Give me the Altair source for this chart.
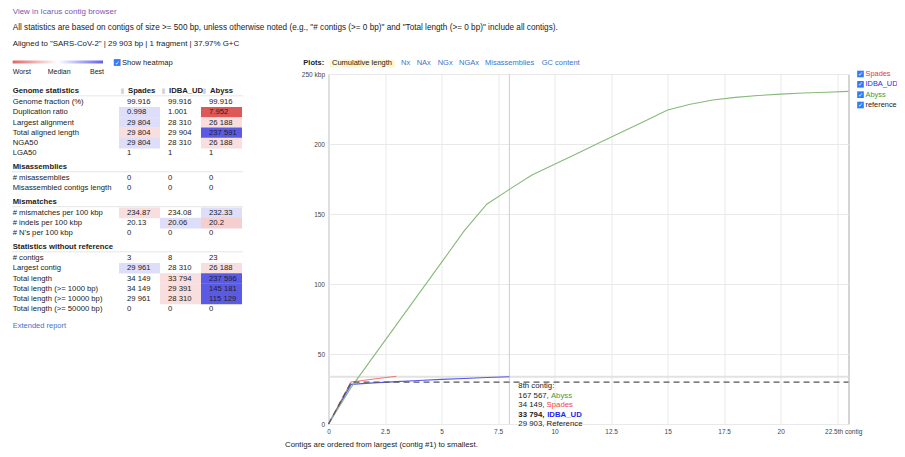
import altair as alt
import pandas as pd

# ---------------- data ----------------
assemblies = ["Spades", "IDBA_UD", "Abyss"]

cum_spades = [0, 29.961, 32.1, 34.149]
cum_idba = [0, 28.310, 29.391, 30.291, 31.091, 31.851, 32.551, 33.201, 33.794]
cum_abyss = [0, 26.188, 48.5, 70.8, 93.1, 115.4, 137.9, 157.0, 167.567, 177.8,
             185.5, 193.3, 201.0, 208.8, 216.5, 224.3, 228.4, 231.4, 233.3,
             234.6, 235.6, 236.4, 237.0, 237.596]
ref_contig = [0, 1, 23]
ref_kbp = [0, 29.903, 29.903]

x_ticks = [0, 2.5, 5, 7.5, 10, 12.5, 15, 17.5, 20, 22.5]
y_ticks = [0, 50, 100, 150, 200, 250]

hover_contig = 8
hover_level = 33.794
hover_title = "8th contig:"
hover_names = ["Abyss", "Spades", "IDBA_UD", "Reference"]
hover_values = ["167 567", "34 149", "33 794", "29 903"]

legend_names = ["Spades", "IDBA_UD", "Abyss", "reference"]
plot_tabs = ["Cumulative length", "Nx", "NAx", "NGx", "NGAx", "Misassemblies", "GC content"]

section_titles = ["Genome statistics", "Misassemblies", "Mismatches", "Statistics without reference"]
row_labels = ["Genome fraction (%)", "Duplication ratio", "Largest alignment",
              "Total aligned length", "NGA50", "LGA50",
              "# misassemblies", "Misassembled contigs length",
              "# mismatches per 100 kbp", "# indels per 100 kbp", "# N's per 100 kbp",
              "# contigs", "Largest contig", "Total length", "Total length (>= 1000 bp)",
              "Total length (>= 10000 bp)", "Total length (>= 50000 bp)"]
row_section = [0, 0, 0, 0, 0, 0, 1, 1, 2, 2, 2, 3, 3, 3, 3, 3, 3]
spades_vals = ["99.916", "0.998", "29 804", "29 804", "29 804", "1", "0", "0", "234.87", "20.13", "0",
               "3", "29 961", "34 149", "34 149", "29 961", "0"]
idba_vals = ["99.916", "1.001", "28 310", "29 904", "28 310", "1", "0", "0", "234.08", "20.06", "0",
             "8", "28 310", "33 794", "29 391", "28 310", "0"]
abyss_vals = ["99.916", "7.952", "26 188", "237 591", "26 188", "1", "0", "0", "232.33", "20.2", "0",
              "23", "26 188", "237 596", "145 181", "115 129", "0"]
spades_heat = [0, 0.17, 0.17, -0.17, 0.17, 0, 0, 0, -0.17, 0, 0, 0, 0.17, 0, 0, 0, 0]
idba_heat = [0, 0, 0, 0, 0, 0, 0, 0, 0, 0.17, 0, 0, 0, -0.17, -0.17, -0.17, 0]
abyss_heat = [0, -0.85, -0.17, 0.85, -0.17, 0, 0, 0, 0.17, -0.25, 0, 0, -0.17, 0.85, 0.85, 0.85, 0]

# ---------------- style / layout ----------------
FONT = "Liberation Sans"
TXT = "#222222"
LINK = "#3f74c6"
line_colors = ["#f07777", "#5656f2", "#86ba7a"]
legend_text_colors = ["#ec3434", "#2a2aec", "#3f9a35", "#222222"]
hover_name_colors = {"Abyss": "#4a9a3c", "Spades": "#f04848", "IDBA_UD": "#1f1ff0", "Reference": "#222222"}
heat_range = ["#d83a3a", "#ffffff", "#3d3de0"]
CHECK_BLUE = "#2f7cf6"
TABLE_FS = 7.7

PW, PH = 520, 350          # plot area
OX, OY = 328.5, 74         # page position of plot origin
SVG_W, SVG_H = 889, 441


def rx(px):
    return px - OX


def ry(py):
    return py - OY


one = pd.DataFrame({"k": [0]})


def txt(text, x, y, size=7.5, color=TXT, weight="normal", align="left", font=FONT, dx=0):
    return alt.Chart(one).mark_text(
        text=text, align=align, baseline="middle", fontSize=size, color=color,
        fontWeight=weight, font=font, dx=dx
    ).encode(x=alt.value(x), y=alt.value(y))


def text_width(s, size):
    w = 0
    for ch in s:
        if ch.isdigit():
            w += 0.556
        else:
            w += 0.278
    return w * size


# ---------------- cumulative-length plot ----------------
rows = []
for name, vals in zip(assemblies, [cum_spades, cum_idba, cum_abyss]):
    for i, v in enumerate(vals):
        rows.append({"contig": i, "kbp": v, "assembly": name})
df_lines = pd.DataFrame(rows)
df_ref = pd.DataFrame({"contig": ref_contig, "kbp": ref_kbp})

xscale = alt.Scale(domain=[0, 23], nice=False, zero=False)
yscale = alt.Scale(domain=[0, 250], nice=False)

xaxis = alt.Axis(values=x_ticks, title=None, grid=True, gridColor="#e9e9e9", domain=False,
                 ticks=False, labelPadding=4, labelFontSize=6.5, labelColor="#444",
                 labelFlush=False, labelOverlap=False,
                 labelExpr="datum.value == 22.5 ? '22.5th contig' : '' + datum.value",
                 labelOffset={"condition": {"test": "datum.value == 22.5", "value": 6}, "value": 0})
yaxis = alt.Axis(values=y_ticks, title=None, grid=True, gridColor="#e9e9e9", domain=False,
                 ticks=False, labelPadding=4, labelFontSize=6.5, labelColor="#444",
                 labelOverlap=False,
                 labelExpr="datum.value == 250 ? '250 kbp' : '' + datum.value")

hover_h = alt.Chart(one).mark_rule(color="#e2e2e2", strokeWidth=2).encode(
    y=alt.datum(hover_level, scale=yscale))
hover_v = alt.Chart(one).mark_rule(color="#cdcdcd", strokeWidth=1).encode(
    x=alt.datum(hover_contig, scale=xscale))

lines = alt.Chart(df_lines).mark_line(strokeWidth=1.1).encode(
    x=alt.X("contig:Q", scale=xscale, axis=xaxis),
    y=alt.Y("kbp:Q", scale=yscale, axis=yaxis),
    color=alt.Color("assembly:N", scale=alt.Scale(domain=assemblies, range=line_colors), legend=None),
)
ref_line = alt.Chart(df_ref).mark_line(strokeWidth=1.2, color="#555555", strokeDash=[6, 4]).encode(
    x="contig:Q", y="kbp:Q")

tip_layers = []
tip_y0 = ry(386)
tip_step = 9.6
tip_layers.append(
    alt.Chart(one).mark_text(text=hover_title, align="left", baseline="middle", fontSize=7.8,
                             color=TXT, dx=9).encode(x=alt.datum(hover_contig), y=alt.value(tip_y0)))
for i, (nm, val) in enumerate(zip(hover_names, hover_values)):
    bold = "bold" if nm == "IDBA_UD" else "normal"
    yv = tip_y0 + tip_step * (i + 1)
    prefix = val + ", "
    tip_layers.append(
        alt.Chart(one).mark_text(text=prefix, align="left", baseline="middle", fontSize=7.8,
                                 color=TXT, fontWeight=bold, dx=9).encode(
            x=alt.datum(hover_contig), y=alt.value(yv)))
    tip_layers.append(
        alt.Chart(one).mark_text(text=nm, align="left", baseline="middle", fontSize=7.8,
                                 color=hover_name_colors[nm], fontWeight=bold,
                                 dx=9 + text_width(prefix, 7.8) + (0.6 if bold == "bold" else 0)).encode(
            x=alt.datum(hover_contig), y=alt.value(yv)))

plot = alt.layer(hover_h, hover_v, lines, ref_line, *tip_layers)

# ---------------- statistics table ----------------
positions = []
header_pos = []
cur = 0.0
for si in range(len(section_titles)):
    if si > 0:
        cur += 1.3
    header_pos.append(cur)
    cur += 1.1
    first = True
    for r, s in enumerate(row_section):
        if s != si:
            continue
        if not first:
            cur += 1.0
        first = False
        positions.append(cur)
total_units = cur

cells = []
for r, lab in enumerate(row_labels):
    for a, vals, heats in zip(assemblies, [spades_vals, idba_vals, abyss_vals],
                              [spades_heat, idba_heat, abyss_heat]):
        cells.append({"label": lab, "assembly": a, "value": vals[r], "heat": heats[r],
                      "yc": positions[r], "y0": positions[r] - 0.52, "y1": positions[r] + 0.52})
df_cells = pd.DataFrame(cells)
df_heat = df_cells[df_cells["heat"] != 0]
df_rowlab = pd.DataFrame({"label": row_labels, "yc": positions})
df_sec = pd.DataFrame({"label": section_titles, "yc": header_pos,
                       "line": [h + 0.5 for h in header_pos]})
df_colhead = pd.DataFrame({"assembly": assemblies, "yc": [header_pos[0]] * 3})

ty = alt.Scale(domain=[0, total_units], range=[ry(90.7), ry(309.3)], nice=False, zero=False)
tx = alt.Scale(type="band", domain=assemblies, range=[rx(119), rx(242)], paddingInner=0, paddingOuter=0)

cell_rect = alt.Chart(df_heat).mark_rect().encode(
    x=alt.X("assembly:N", scale=tx, axis=None),
    y=alt.Y("y0:Q", scale=ty, axis=None), y2="y1:Q",
    color=alt.Color("heat:Q", scale=alt.Scale(type="linear", domain=[-1, 0, 1], range=heat_range,
                                               interpolate="rgb"), legend=None),
)
cell_txt = alt.Chart(df_cells).mark_text(align="left", baseline="middle", fontSize=TABLE_FS, color=TXT,
                                         dx=-12.5).encode(
    x=alt.X("assembly:N", scale=tx, axis=None), y=alt.Y("yc:Q", scale=ty, axis=None), text="value:N")
row_txt = alt.Chart(df_rowlab).mark_text(align="left", baseline="middle", fontSize=TABLE_FS, color=TXT).encode(
    x=alt.value(rx(12.7)), y=alt.Y("yc:Q", scale=ty, axis=None), text="label:N")
sec_line = alt.Chart(df_sec).mark_rule(color="#e6e6e6", strokeWidth=1).encode(
    x=alt.value(rx(12)), x2=alt.value(rx(243)), y=alt.Y("line:Q", scale=ty, axis=None))
sec_txt = alt.Chart(df_sec).mark_text(align="left", baseline="middle", fontSize=TABLE_FS, color=TXT,
                                      fontWeight="bold").encode(
    x=alt.value(rx(12.7)), y=alt.Y("yc:Q", scale=ty, axis=None), text="label:N")
col_icon = alt.Chart(df_colhead).mark_text(text="\u25ae", align="center", baseline="middle", fontSize=7,
                                           color="#d2d2d2", font="DejaVu Sans", dx=-17).encode(
    x=alt.X("assembly:N", scale=tx, axis=None), y=alt.Y("yc:Q", scale=ty, axis=None))
col_txt = alt.Chart(df_colhead).mark_text(align="left", baseline="middle", fontSize=TABLE_FS, color=TXT,
                                          fontWeight="bold", dx=-11.5).encode(
    x=alt.X("assembly:N", scale=tx, axis=None), y=alt.Y("yc:Q", scale=ty, axis=None), text="assembly:N")

table = alt.layer(cell_rect, sec_line, cell_txt, row_txt, sec_txt, col_icon, col_txt)

# ---------------- series legend (right) ----------------
df_leg = pd.DataFrame({"name": legend_names})
leg_y = alt.Y("name:N", scale=alt.Scale(type="point", domain=legend_names, range=[ry(74), ry(105)], padding=0),
              axis=None)
leg_box = alt.Chart(df_leg).mark_point(shape="square", filled=True, size=44, color=CHECK_BLUE, opacity=1).encode(
    x=alt.value(rx(860.5)), y=leg_y)
leg_chk = alt.Chart(df_leg).mark_text(text="\u2713", font="DejaVu Sans", fontSize=6, color="white",
                                      fontWeight="bold", baseline="middle").encode(x=alt.value(rx(860.5)), y=leg_y)
leg_txt = alt.Chart(df_leg).mark_text(align="left", baseline="middle", fontSize=7.4).encode(
    x=alt.value(rx(865.5)), y=leg_y, text="name:N",
    color=alt.Color("name:N", scale=alt.Scale(domain=legend_names, range=legend_text_colors), legend=None))
legend = alt.layer(leg_box, leg_chk, leg_txt)

# ---------------- page decorations ----------------
grad = alt.Chart(one).mark_rect(fill={
    "gradient": "linear", "x1": 0, "x2": 1, "y1": 0, "y2": 0,
    "stops": [{"offset": 0, "color": "#e06464"}, {"offset": 0.5, "color": "#ffffff"},
              {"offset": 1, "color": "#5f5fe6"}]}).encode(
    x=alt.value(rx(12.7)), x2=alt.value(rx(103)), y=alt.value(ry(60.5)), y2=alt.value(ry(63.5)))
heat_box = alt.Chart(one).mark_point(shape="square", filled=True, size=46, color=CHECK_BLUE, opacity=1).encode(
    x=alt.value(rx(117.2)), y=alt.value(ry(62.5)))
tab_hl = alt.Chart(one).mark_rect(color="#fbf7cf").encode(
    x=alt.value(rx(330)), x2=alt.value(rx(394.5)), y=alt.value(ry(59.5)), y2=alt.value(ry(67.5)))

tab_x = [332, 401, 416.7, 437.7, 459, 485, 541.7]
deco = [
    txt("View in Icarus contig browser", rx(12.7), ry(12.3), size=8, color="#7d55b5"),
    txt("All statistics are based on contigs of size >= 500 bp, unless otherwise noted "
        "(e.g., \"# contigs (>= 0 bp)\" and \"Total length (>= 0 bp)\" include all contigs).",
        rx(12.7), ry(27.7), size=8.2),
    txt("Aligned to \"SARS-CoV-2\" | 29 903 bp | 1 fragment | 37.97% G+C", rx(12.7), ry(43.6), size=7.9),
    grad,
    txt("Worst", rx(12.7), ry(71.7), size=7),
    txt("Median", rx(47.7), ry(71.7), size=7),
    txt("Best", rx(90), ry(71.7), size=7),
    heat_box,
    txt("\u2713", rx(117.2), ry(62.5), size=6, color="white", weight="bold", align="center", font="DejaVu Sans"),
    txt("Show heatmap", rx(122), ry(62.5), size=7.6),
    txt("Extended report", rx(12.7), ry(325.7), size=7.5, color=LINK),
    txt("Plots:", rx(303.3), ry(63.3), size=7.5, weight="bold"),
    tab_hl,
]
for i, (name, px) in enumerate(zip(plot_tabs, tab_x)):
    deco.append(txt(name, rx(px), ry(63.3), size=7.5, color=TXT if i == 0 else LINK))
deco.append(txt("Contigs are ordered from largest (contig #1) to smallest.", rx(285), ry(444.5), size=7.8))

chart = alt.layer(plot, table, legend, *deco).resolve_scale(
    x="independent", y="independent", color="independent"
).properties(
    width=PW, height=PH,
    padding={"left": OX - 8, "top": OY - 8, "right": SVG_W - (OX - 8) - PW, "bottom": SVG_H - (OY - 8) - PH},
    autosize=alt.AutoSizeParams(type="none"),
).configure(font=FONT).configure_view(stroke="#aaaaaa", strokeWidth=1)

chart.save("out.html", embed_options={"renderer": "svg", "actions": False})
